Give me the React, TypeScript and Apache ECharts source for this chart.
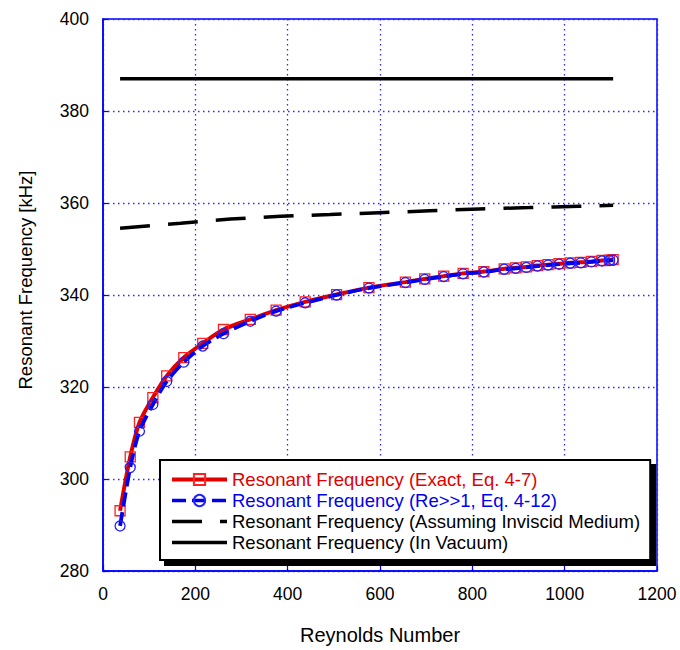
import React, { useEffect, useRef } from "react";
import * as echarts from "echarts";

const reynolds = [37, 59, 79, 108, 138, 175, 216, 261, 319, 375, 438, 506, 576, 655, 697, 738, 780, 825, 869, 894, 917, 941, 964, 988, 1012, 1035, 1058, 1081, 1097, 1105];
const exactFreq = [293.1, 304.8, 312.3, 317.7, 322.4, 326.4, 329.5, 332.5, 334.7, 336.7, 338.5, 340.1, 341.6, 342.8, 343.5, 344.1, 344.7, 345.1, 345.7, 345.9, 346.1, 346.4, 346.6, 346.8, 347.0, 347.1, 347.3, 347.5, 347.6, 347.7];
const approxFreq = [289.8, 302.5, 310.4, 316.2, 321.2, 325.4, 328.9, 331.6, 334.3, 336.5, 338.3, 340.0, 341.5, 342.7, 343.4, 344.0, 344.6, 345.0, 345.6, 345.8, 346.0, 346.3, 346.5, 346.7, 346.9, 347.0, 347.2, 347.4, 347.5, 347.6];
const inviscidRe = [37, 168, 276, 385, 492, 599, 708, 815, 923, 1030, 1105];
const inviscidFreq = [354.5, 355.6, 356.5, 357.1, 357.5, 357.9, 358.3, 358.7, 359.0, 359.3, 359.5];
const vacuumRe = [37, 1105];
const vacuumFreq = [387, 387];

const seriesNames = [
  "Resonant Frequency (Exact, Eq. 4-7)",
  "Resonant Frequency (Re>>1, Eq. 4-12)",
  "Resonant Frequency (Assuming Inviscid Medium)",
  "Resonant Frequency (In Vacuum)",
];

const FONT = "Liberation Sans, Arial, sans-serif";

function pairs(xs: number[], ys: number[]) {
  return xs.map((x, i) => [x, ys[i]]);
}

export default function App() {
  const ref = useRef<HTMLDivElement>(null);
  useEffect(() => {
    if (!ref.current) return;
    const chart = echarts.init(ref.current, undefined, { renderer: "svg" });
    const blue = "#0000ff";
    const hidden = { color: "rgba(0,0,0,0)", borderColor: "rgba(0,0,0,0)", borderWidth: 0 };
    chart.setOption({
      animation: false,
      backgroundColor: "#ffffff",
      textStyle: { fontFamily: FONT },
      grid: {
        left: 103,
        right: 23,
        top: 19,
        bottom: 78,
        show: true,
        borderColor: blue,
        borderWidth: 1.5,
        backgroundColor: "transparent",
      },
      xAxis: {
        type: "value",
        min: 0,
        max: 1200,
        interval: 200,
        name: "Reynolds Number",
        nameLocation: "middle",
        nameGap: 54,
        nameTextStyle: { fontSize: 20, color: "#000", fontFamily: FONT },
        axisLine: { show: true, lineStyle: { color: blue, width: 1.5 } },
        axisTick: { show: true, inside: true, length: 5, lineStyle: { color: blue, width: 1.2 } },
        axisLabel: { fontSize: 17.5, color: "#000", margin: 14, fontFamily: FONT, formatter: (v: number) => String(v) },
        splitLine: { show: true, lineStyle: { color: "#2a2aff", width: 1.3, type: [1.5, 3.5] } },
      },
      yAxis: {
        type: "value",
        min: 280,
        max: 400,
        interval: 20,
        axisLine: { show: true, lineStyle: { color: blue, width: 1.5 } },
        axisTick: { show: true, inside: true, length: 5, lineStyle: { color: blue, width: 1.2 } },
        axisLabel: { fontSize: 17.5, color: "#000", margin: 14, fontFamily: FONT, formatter: (v: number) => String(v) },
        splitLine: { show: true, lineStyle: { color: "#2a2aff", width: 1.3, type: [1.5, 3.5] } },
      },
      legend: {
        orient: "vertical",
        left: 160,
        top: 460,
        itemWidth: 55,
        itemHeight: 14,
        itemGap: 2,
        padding: [10, 10, 8, 10],
        backgroundColor: "#ffffff",
        borderColor: "#000000",
        borderWidth: 2,
        borderRadius: 0,
        shadowColor: "#000000",
        shadowBlur: 0,
        shadowOffsetX: 5,
        shadowOffsetY: 5,
        textStyle: { fontSize: 18.5, fontFamily: FONT },
        data: [
          { name: seriesNames[0], textStyle: { color: "#e00000" }, lineStyle: { width: 4 } },
          { name: seriesNames[1], textStyle: { color: "#0000ee" }, lineStyle: { width: 3.5 } },
          { name: seriesNames[2], textStyle: { color: "#000000" }, lineStyle: { width: 3.5 }, itemStyle: hidden },
          { name: seriesNames[3], textStyle: { color: "#000000" }, lineStyle: { width: 3.5 }, itemStyle: hidden },
        ],
      },
      graphic: [
        {
          type: "text",
          x: 25,
          y: 280,
          rotation: Math.PI / 2,
          style: {
            text: "Resonant Frequency [kHz]",
            fontSize: 18.5,
            fontFamily: FONT,
            fill: "#000",
            textAlign: "center",
            textVerticalAlign: "middle",
          },
        },
      ],
      series: [
        {
          name: seriesNames[0],
          type: "line",
          data: pairs(reynolds, exactFreq),
          smooth: 0.3,
          showAllSymbol: true,
          symbol: "rect",
          symbolSize: 10,
          lineStyle: { color: "#e00000", width: 4 },
          itemStyle: { color: "rgba(255,255,255,0)", borderColor: "#ff2020", borderWidth: 1.3 },
          z: 3,
        },
        {
          name: seriesNames[1],
          type: "line",
          data: pairs(reynolds, approxFreq),
          smooth: 0.3,
          showAllSymbol: true,
          symbol: "circle",
          symbolSize: 10,
          lineStyle: { color: "#0000ee", width: 3.8, type: [14, 6] },
          itemStyle: { color: "rgba(255,255,255,0)", borderColor: "#2020ff", borderWidth: 1.3 },
          z: 4,
        },
        {
          name: seriesNames[2],
          type: "line",
          data: pairs(inviscidRe, inviscidFreq),
          smooth: 0.3,
          symbol: "none",
          lineStyle: { color: "#000000", width: 3.5, type: [30, 18] },
          itemStyle: { color: "#000000" },
          z: 3,
        },
        {
          name: seriesNames[3],
          type: "line",
          data: pairs(vacuumRe, vacuumFreq),
          symbol: "none",
          lineStyle: { color: "#000000", width: 3.5 },
          itemStyle: { color: "#000000" },
          z: 3,
        },
      ],
    });
    return () => chart.dispose();
  }, []);
  return <div ref={ref} style={{ position: "absolute", left: 0, top: 0, width: 680, height: 650 }} />;
}
